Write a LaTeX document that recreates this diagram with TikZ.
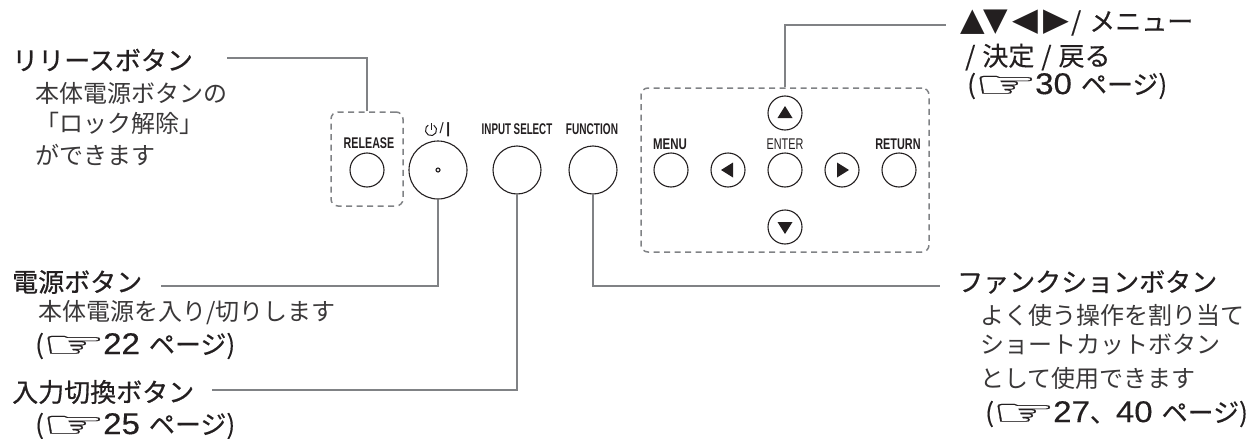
\documentclass[tikz,border=0pt]{standalone}
\usepackage{fontspec}
\usepackage{graphicx}
\setmainfont{Liberation Sans}
\newfontfamily\jpfont{Noto Sans CJK JP}
\newfontfamily\jpmid[FakeBold=0.25]{Noto Sans CJK JP}
\newfontfamily\jphead[FakeBold=0.6]{Noto Sans CJK JP}
\newfontfamily\djfont{DejaVu Sans}
\newfontfamily\djbold[FakeBold=0.4]{DejaVu Sans}
\newfontfamily\arfont[FakeBold=0.3]{Liberation Sans}
\newfontfamily\arplain{Liberation Sans}
\definecolor{ink}{HTML}{231F20}
\definecolor{bodyink}{HTML}{3A3839}
\definecolor{rule}{HTML}{808285}
\newcommand{\hand}{\kern-2.5pt\smash{\raisebox{-3.5pt}{\scalebox{1.9}[1.0]{\fontsize{38}{38}\selectfont\djbold ☞}}}\kern-3pt}
\newcommand{\digs}[1]{\scalebox{1.1}[1]{\fontsize{30}{30}\selectfont\arfont #1}}
\newcommand{\ctrl}[2]{\scalebox{#1}[1]{\fontsize{15.5}{16}\selectfont\arplain #2}}
\tikzset{
  heading/.style={anchor=west,inner sep=0pt,text=ink,font=\fontsize{26}{26}\selectfont\jphead},
  padhead/.style={anchor=west,inner sep=0pt,text=ink,font=\fontsize{26}{26}\selectfont\jpmid},
  body/.style={anchor=west,inner sep=0pt,text=bodyink,font=\fontsize{24}{24}\selectfont\jpfont},
  ref/.style={anchor=west,inner sep=0pt,text=ink,font=\fontsize{26}{26}\selectfont\jpmid},
  btnsmall/.style={circle,draw=ink,line width=1.1pt,minimum size=34pt,inner sep=0pt},
  btnmid/.style={circle,draw=ink,line width=1.1pt,minimum size=48pt,inner sep=0pt},
  btnbig/.style={circle,draw=ink,line width=1.1pt,minimum size=58pt,inner sep=0pt},
  zone/.style={draw=rule,line width=1.5pt,dash pattern=on 6pt off 4.5pt,rounded corners=7pt,inner sep=0pt},
  leader/.style={draw=rule,line width=2.4pt},
  ctrllabel/.style={inner sep=0pt,text=ink},
  tri/.style={fill=ink,draw=none}
}
\begin{document}
\begin{tikzpicture}[x=1pt,y=-1pt]
\useasboundingbox (0,0) rectangle (1256,439);
\clip (0,0) rectangle (1256,439);

% zones
\node[zone,minimum width=72pt,minimum height=94pt] (relzone) at (367,159) {};
\node[zone,minimum width=288pt,minimum height=164pt] (padzone) at (785,170) {};

% buttons
\node[btnsmall] (brel) at (367,170) {};
\node[btnbig] (bpow) at (438,170) {};
\node[btnmid] (binp) at (517,170) {};
\node[btnmid] (bfun) at (593,170) {};
\node[btnsmall] (bmenu) at (671,170) {};
\node[btnsmall] (bleft) at (728,170) {};
\node[btnsmall] (bent) at (785,170) {};
\node[btnsmall] (bright) at (842,170) {};
\node[btnsmall] (bret) at (899,170) {};
\node[btnsmall] (bup) at (785,113) {};
\node[btnsmall] (bdown) at (785,227) {};

% glyphs in the buttons
\fill[ink] (438,170) circle (2.6pt);
\fill[white] (438,170) circle (1.4pt);
\fill[tri] (785,106) -- (792.5,118) -- (777.5,118) -- cycle;
\fill[tri] (785,234) -- (792.5,222) -- (777.5,222) -- cycle;
\fill[tri] (721,170) -- (733,162.5) -- (733,177.5) -- cycle;
\fill[tri] (849,170) -- (837,162.5) -- (837,177.5) -- cycle;

% button labels
\node[ctrllabel] (lrel) at (369,143) {\ctrl{.69}{\bfseries RELEASE}};
\node[ctrllabel] (linp) at (517,129) {\ctrl{.63}{\bfseries INPUT SELECT}};
\node[ctrllabel] (lfun) at (592,129) {\ctrl{.65}{\bfseries FUNCTION}};
\node[ctrllabel] (lmenu) at (670,144) {\ctrl{.74}{\bfseries MENU}};
\node[ctrllabel] (lent) at (785,144) {\ctrl{.70}{ENTER}};
\node[ctrllabel] (lret) at (898,144) {\ctrl{.70}{\bfseries RETURN}};
\draw[ink,line width=1pt] (433.8,125.2) arc[start angle=60,end angle=-240,radius=5.6pt];
\draw[ink,line width=1pt] (431,123) -- (431,130);
\node[inner sep=0pt,text=ink,font=\fontsize{15}{15}\selectfont] (lpow) at (445,130) {/\,\textbf{|}};

% left texts
\node[heading] (hrel) at (12,60) {リリースボタン};
\node[body] at (35,93) {本体電源ボタンの};
\node[body] at (35,123) {「ロック解除」};
\node[body] at (35,155) {ができます};

\node[heading] (hpow) at (12,282) {電源ボタン};
\node[body] at (38,313) {本体電源を入り/切りします};
\node[ref] at (35,346) {(\hand\digs{22}\kern9pt ページ)};

\node[heading] (hinp) at (12,392) {入力切換ボタン};
\node[ref] at (35,426) {(\hand\digs{25}\kern9pt ページ)};

% right texts
\node[heading] (hfun) at (957,282) {ファンクションボタン};
\node[body] at (980,315) {よく使う操作を割り当て};
\node[body] at (980,345) {ショートカットボタン};
\node[body] at (980,378) {として使用できます};
\node[ref] at (985,414) {(\hand\digs{27}、\digs{40}\kern9pt ページ)};

\node[padhead] (hpad) at (960,23) {{\fontsize{32}{32}\selectfont\djfont ▲\kern-1pt▼\kern4pt\scalebox{1.05}[1]{◀}\kern5pt\scalebox{1.05}[1]{▶}}\kern2pt/\kern8pt メニュー};
\node[padhead] at (965,57) {/\kern7pt 決定\kern7pt /\kern7pt 戻る};
\node[ref] at (967,86) {(\hand\digs{30}\kern9pt ページ)};

% leaders
\coordinate (erel) at (227,58);
\coordinate (epow) at (161,286);
\coordinate (einp) at (212,390);
\coordinate (efun) at (940,286);
\coordinate (epad) at (946,25);
\draw[leader] (relzone.north) |- (erel);
\draw[leader] (bpow.south) |- (epow);
\draw[leader] (binp.south) |- (einp);
\draw[leader] (bfun.south) |- (efun);
\draw[leader] (padzone.north) |- (epad);
\end{tikzpicture}
\end{document}
